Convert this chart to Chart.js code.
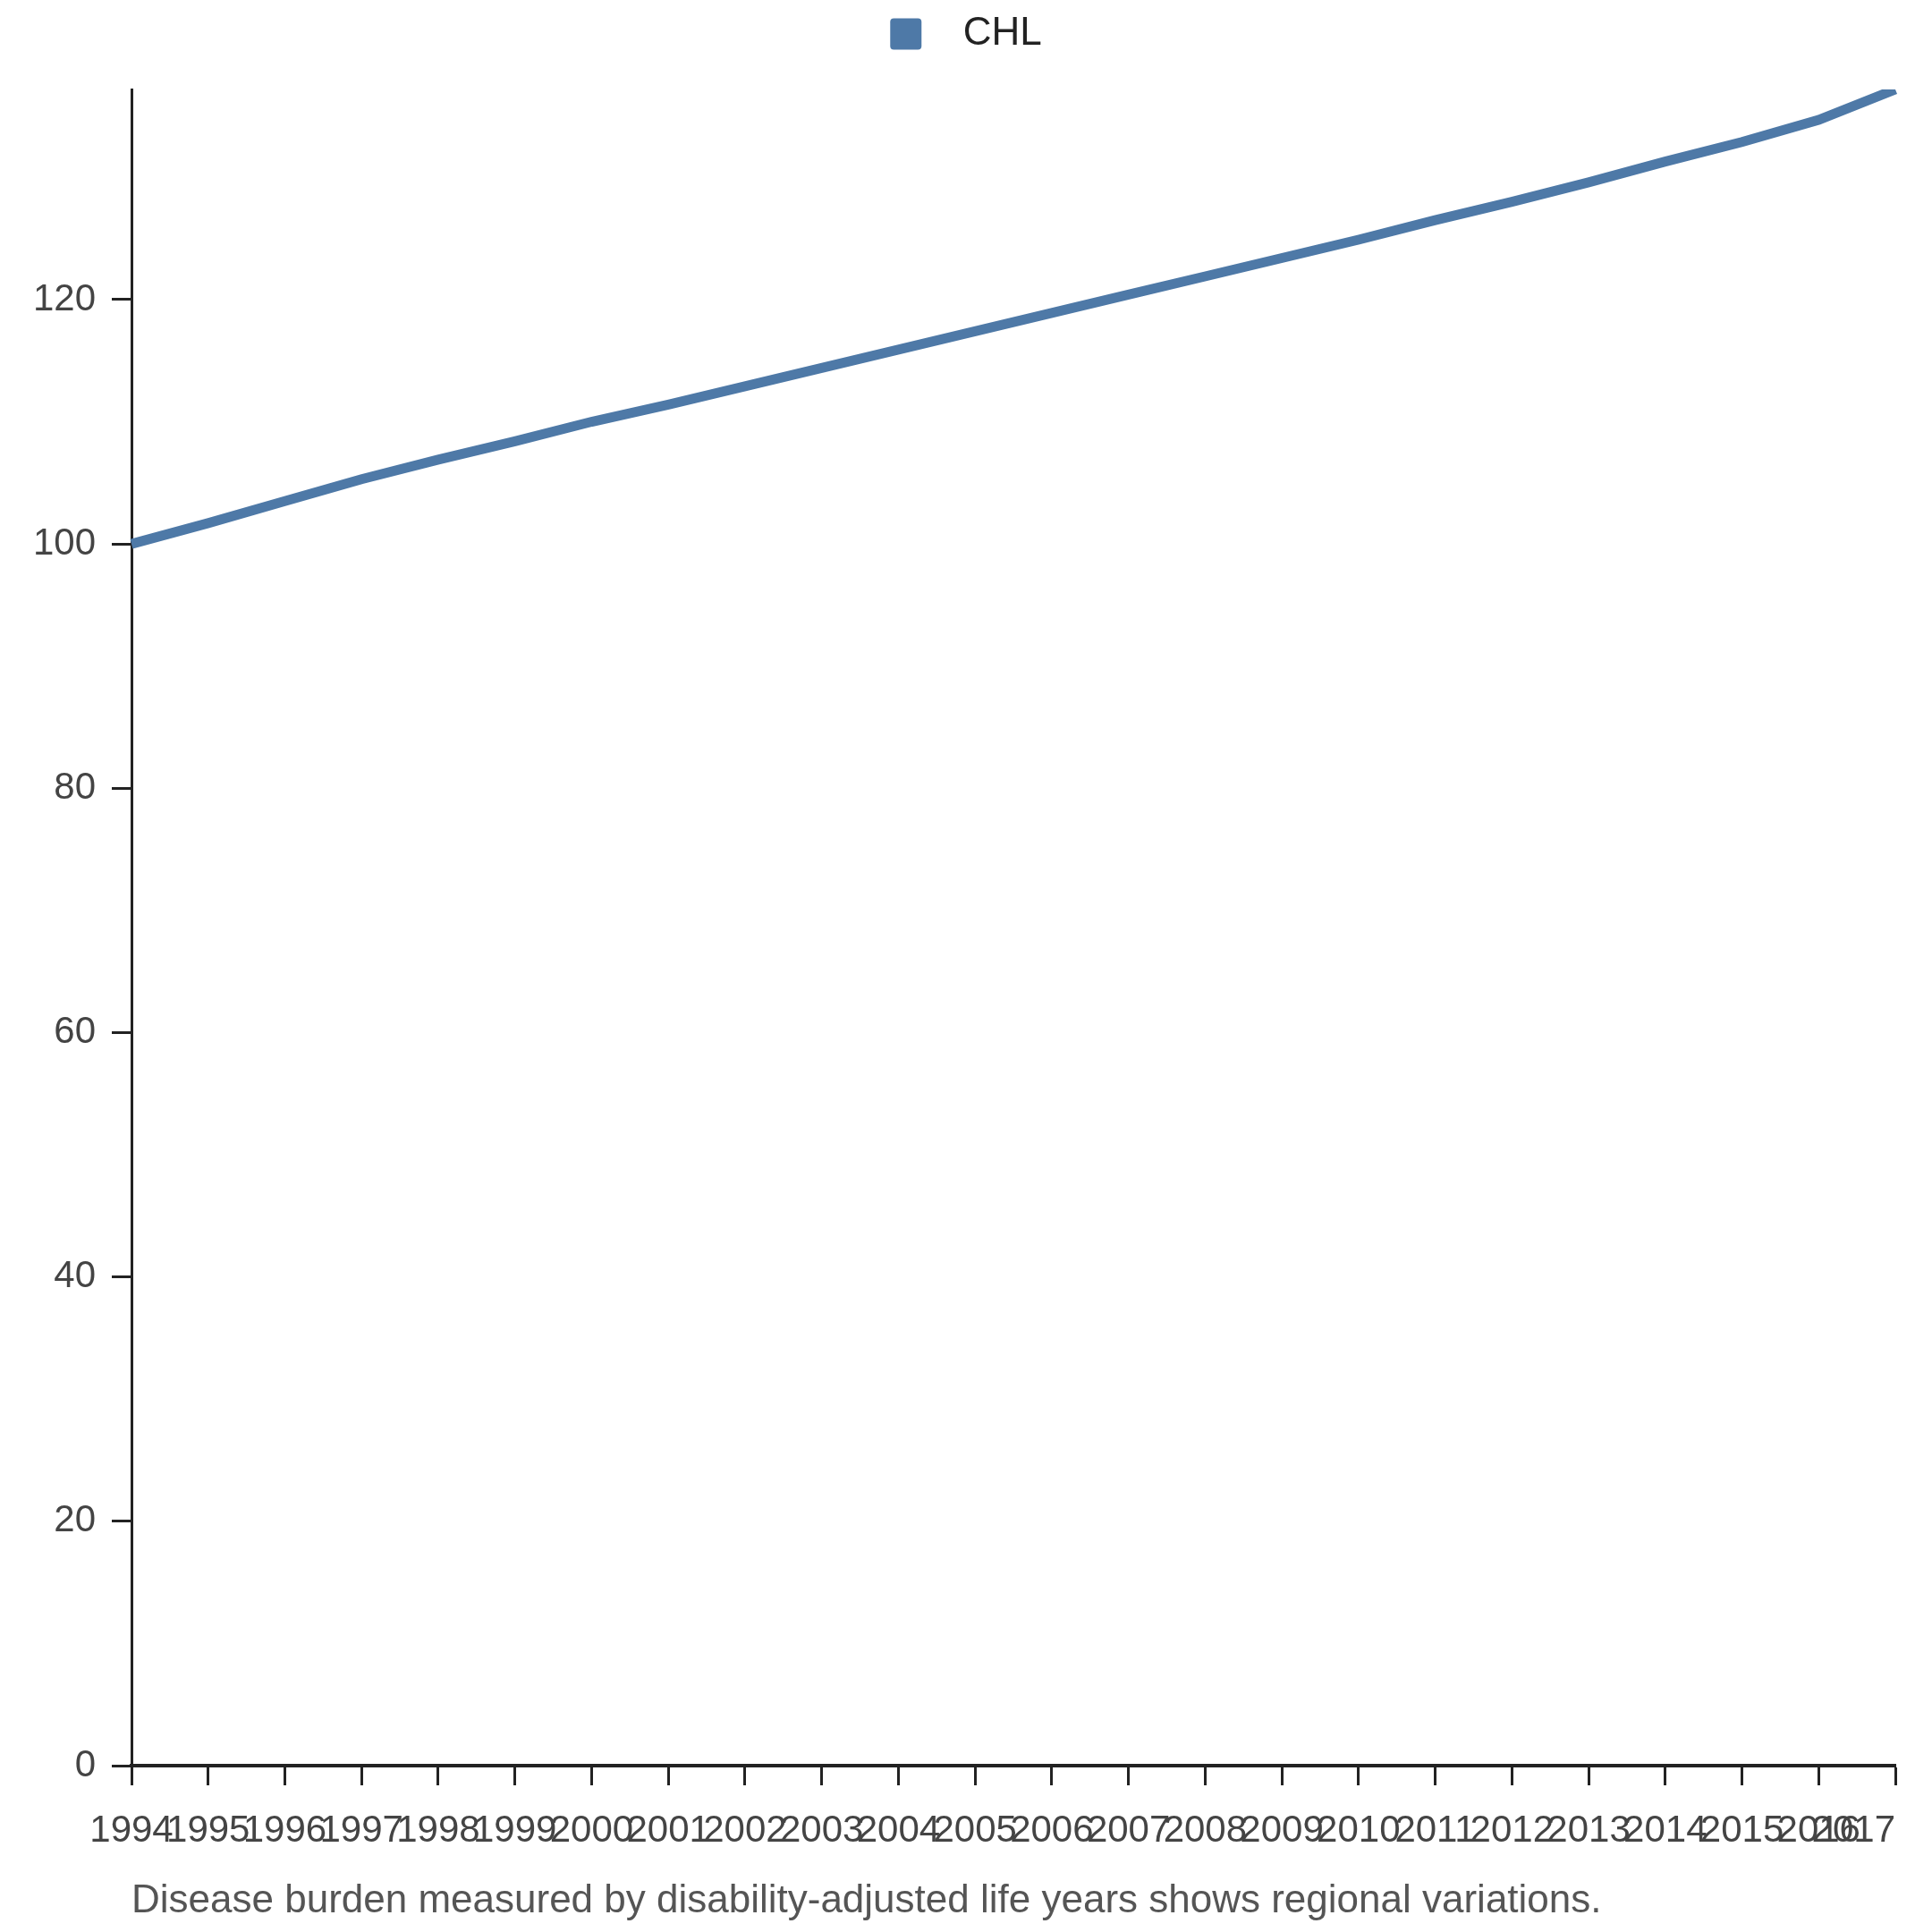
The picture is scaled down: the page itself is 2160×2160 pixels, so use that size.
<!DOCTYPE html>
<html>
<head>
<meta charset="utf-8">
<script src="https://cdn.jsdelivr.net/npm/chart.js@4.4.1/dist/chart.umd.min.js"></script>
<style>
  html, body { margin: 0; padding: 0; background: #fff; }
  #wrap { width: 2160px; height: 2160px; position: relative; }
</style>
</head>
<body>
<div id="wrap"><canvas id="chart-line-1"></canvas></div>
<script>
// values
const years = ['1994', '1995', '1996', '1997', '1998', '1999', '2000', '2001',
  '2002', '2003', '2004', '2005', '2006', '2007', '2008', '2009', '2010',
  '2011', '2012', '2013', '2014', '2015', '2016', '2017'];
const chlValues = [100.0, 101.7, 103.5, 105.3, 106.9, 108.4, 110.0, 111.4,
  112.9, 114.4, 115.9, 117.4, 118.9, 120.4, 121.9, 123.4, 124.9,
  126.5, 128.0, 129.6, 131.3, 132.9, 134.7, 137.2];
const seriesName = 'CHL';
const yTicks = [0, 20, 40, 60, 80, 100, 120];
const caption = 'Disease burden measured by disability-adjusted life years shows regional variations.';

const AXIS = '#222222';
const TICK_TEXT = '#444444';
const FONT = 'Liberation Sans, Arial, sans-serif';

// keep the last year label inside the axis end, like the original
const lastLabelInside = {
    id: 'lastLabelInside',
    beforeDraw(chart) {
        const items = chart.scales.x.getLabelItems();
        if (items.length) {
            items[items.length - 1].options.textAlign = 'right';
        }
    }
};

// empty strip between the legend and the plot
const legendGap = {
    id: 'legendGap',
    start(chart) {
        Chart.layouts.addBox(chart, {
            position: 'top',
            weight: 0,
            fullSize: true,
            options: {},
            isHorizontal() { return true; },
            update(maxWidth) {
                this.width = maxWidth;
                this.height = 30;
            },
            draw() {}
        });
    }
};

const ctx = document.getElementById('chart-line-1').getContext('2d');
const myLineChart = new Chart(ctx, {
    type: 'line',
    data: {
        labels: years,
        datasets: [{
            label: seriesName,
            data: chlValues,
            borderColor: '#4e79a7',
            backgroundColor: '#4e79a7',
            borderWidth: 11,
            pointRadius: 0,
            pointHoverRadius: 0,
            tension: 0,
            fill: false
        }]
    },
    plugins: [lastLabelInside, legendGap],
    options: {
        responsive: true,
        maintainAspectRatio: false,
        devicePixelRatio: 1,
        animation: false,
        layout: { padding: { top: 6, right: 0, bottom: 0, left: 0 } },
        plugins: {
            legend: {
                display: true,
                position: 'top',
                labels: {
                    boxWidth: 35,
                    boxHeight: 35,
                    useBorderRadius: true,
                    borderRadius: 4,
                    color: '#222222',
                    padding: 10,
                    font: { family: FONT, size: 44 },
                    generateLabels(chart) {
                        const items = Chart.defaults.plugins.legend.labels.generateLabels(chart);
                        items.forEach(it => { it.text = '  ' + it.text; it.lineWidth = 0; });
                        return items;
                    }
                }
            },
            tooltip: { enabled: false },
            title: { display: false }
        },
        scales: {
            x: {
                type: 'category',
                offset: false,
                grid: {
                    display: true,
                    drawOnChartArea: false,
                    drawTicks: true,
                    tickLength: 22,
                    tickWidth: 3,
                    tickColor: AXIS
                },
                border: { display: true, color: AXIS, width: 4 },
                ticks: {
                    autoSkip: false,
                    maxRotation: 0,
                    minRotation: 0,
                    padding: 26,
                    color: TICK_TEXT,
                    font: { family: FONT, size: 42 }
                },
                title: {
                    display: true,
                    text: caption,
                    align: 'start',
                    color: '#555555',
                    padding: { top: 26, bottom: 8 },
                    font: { family: FONT, size: 44 }
                },
                afterFit(scale) {
                    scale.paddingLeft = 0;
                    scale.paddingRight = 41;
                    scale.height = 186;
                }
            },
            y: {
                type: 'linear',
                min: 0,
                max: chlValues[chlValues.length - 1],
                afterBuildTicks(scale) {
                    scale.ticks = yTicks.map(v => ({ value: v }));
                },
                grid: {
                    display: true,
                    drawOnChartArea: false,
                    drawTicks: true,
                    tickLength: 22,
                    tickWidth: 3,
                    tickColor: AXIS
                },
                border: { display: true, color: AXIS, width: 3 },
                ticks: {
                    includeBounds: false,
                    padding: 18,
                    color: TICK_TEXT,
                    font: { family: FONT, size: 42 }
                },
                afterFit(scale) {
                    scale.width = 147;
                    scale.paddingTop = 0;
                    scale.paddingBottom = 0;
                }
            }
        }
    }
});
</script>
</body>
</html>
